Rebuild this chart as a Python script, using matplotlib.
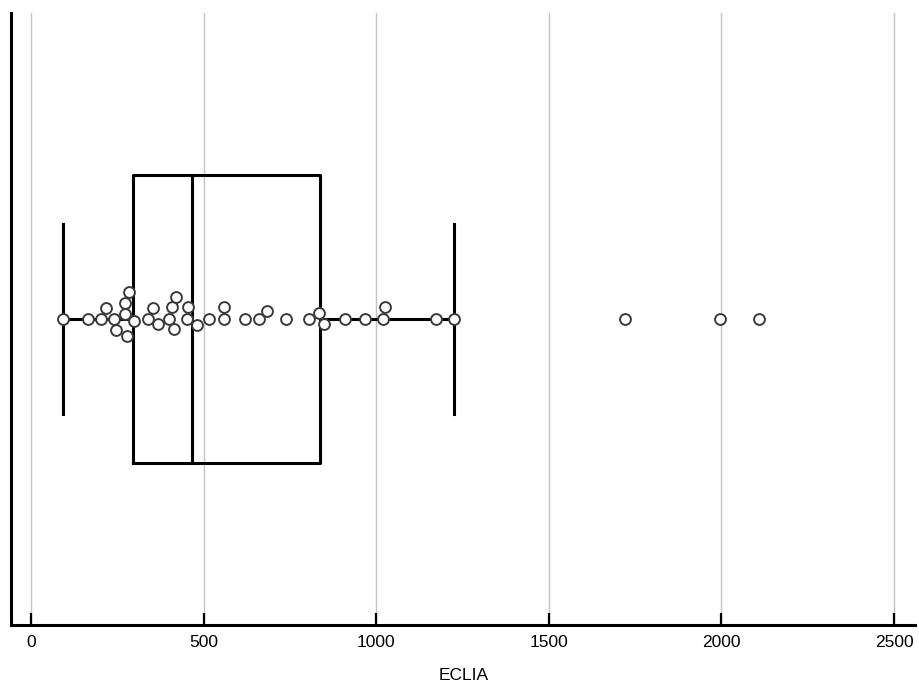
import matplotlib
matplotlib.use('Agg')
import matplotlib.pyplot as plt
import numpy as np

plt.rcParams['font.family'] = ['Liberation Sans', 'DejaVu Sans']

### Valores ECLIA ###
eclia = [92, 164, 203, 216, 241, 247, 272, 272, 277, 285,
         299, 338, 352, 368, 400, 407, 415, 421, 451, 455,
         480, 516, 559, 559, 620, 659, 683, 738, 806, 835,
         848, 910, 968, 1019, 1024, 1173, 1224, 1722, 1995, 2110]
xticks = [0, 500, 1000, 1500, 2000, 2500]
xlabel = 'ECLIA'

fig = plt.figure(figsize=(9.2, 6.87), dpi=100)
ax = fig.add_axes([0.012, 0.0902, 0.983, 0.891])
ax.set_xlim(-58, 2562)
ax.set_ylim(-1, 1)

### Boxplot horizontal ###
ax.boxplot([eclia], positions=[0], vert=False, widths=0.94, capwidths=0.62,
           whis=1.5, showfliers=False, manage_ticks=False,
           boxprops=dict(color='black', linewidth=2.2),
           medianprops=dict(color='black', linewidth=2.2),
           whiskerprops=dict(color='black', linewidth=2.2),
           capprops=dict(color='black', linewidth=2.2), zorder=3)

### Swarm: desplazamiento vertical en pixeles para no solapar ###
d = 11.5
vals = np.sort(np.array(eclia, dtype=float))
px = ax.transData.transform(np.column_stack([vals, np.zeros_like(vals)]))[:, 0]
placed = []
offs = []
for x in px:
    k = 0.0
    while True:
        ok_pos = None
        for cand in ([0.0] if k == 0 else [k, -k]):
            if all((x - xp) ** 2 + (cand - yp) ** 2 >= d ** 2 for xp, yp in placed):
                ok_pos = cand
                break
        if ok_pos is not None:
            break
        k += 0.5
    placed.append((x, ok_pos))
    offs.append(ok_pos)
y0 = ax.transData.transform((0, 0))[1]
pts = ax.transData.inverted().transform(np.column_stack([px, y0 + np.array(offs)]))
ax.plot(vals, pts[:, 1], 'o', ms=7.8, mfc='white', mec='#3a3a3a', mew=1.4,
        linestyle='none', zorder=5)

### Ejes ###
ax.set_xticks(xticks)
ax.set_yticks([])
ax.grid(True, axis='x', color='#c4c4c4', linewidth=1.0)
ax.set_axisbelow(True)
for s in ['top', 'right']:
    ax.spines[s].set_visible(False)
ax.spines['left'].set_linewidth(2.2)
ax.spines['bottom'].set_linewidth(2.2)
ax.tick_params(axis='x', direction='in', length=9, width=1.6, labelsize=12.5, pad=7)
ax.set_xlabel(xlabel, size=12.5, labelpad=13)

plt.savefig('out.png', dpi=100)
